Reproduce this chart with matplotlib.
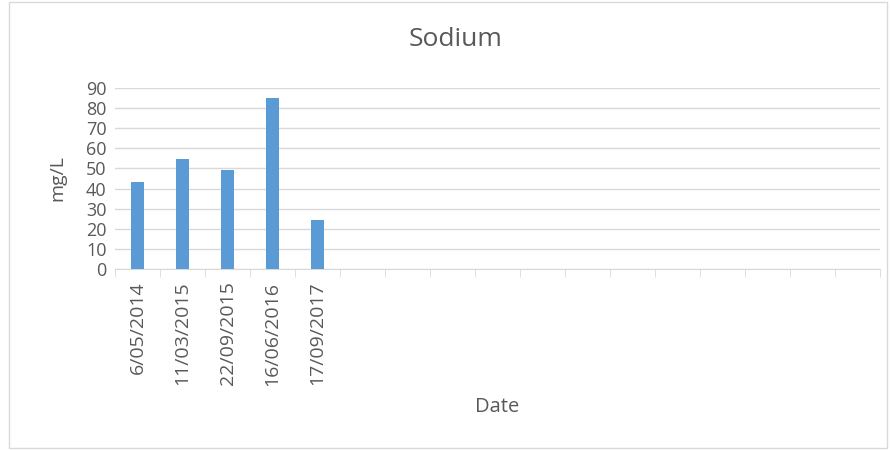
import matplotlib.pyplot as plt
from matplotlib.patches import Rectangle
import numpy as np

# sample dates (the remaining category slots of the sheet are empty)
dates = ["6/05/2014", "11/03/2015", "22/09/2015", "16/06/2016", "17/09/2017"]
sodium = [43.4, 54.5, 49.0, 85.2, 24.2]
n_slots = 17

plt.rcParams["font.family"] = ["Open Sans", "DejaVu Sans"]
grey = "#595959"

fig = plt.figure(figsize=(8.9, 4.5), dpi=100)
ax = fig.add_axes([115 / 890, 1 - 269 / 450, (880 - 115) / 890, (269 - 88) / 450])

x = np.arange(len(dates))
ax.bar(x, sodium, width=0.31, color="#5b9bd5", zorder=3)

ax.set_xlim(-0.5, n_slots - 0.5)
ax.set_ylim(0, 90)
ax.set_yticks(np.arange(0, 91, 10))
ax.yaxis.grid(True, color="#d9d9d9", linewidth=1, zorder=0)

# category labels in the middle, tick marks on boundaries
ax.set_xticks(x)
ax.set_xticklabels(dates, rotation=90)
ax.set_xticks(np.arange(-0.5, n_slots, 1), minor=True)
ax.tick_params(axis="x", which="major", length=0, pad=9, labelsize=14, labelcolor=grey)
ax.tick_params(axis="x", which="minor", length=6, color="#d9d9d9", direction="out")
ax.tick_params(axis="y", length=0, pad=6, labelsize=13, labelcolor=grey)

for side in ["top", "right", "left"]:
    ax.spines[side].set_visible(False)
ax.spines["bottom"].set_color("#d9d9d9")

fig.text(456 / 890, 1 - 40 / 450, "Sodium", ha="center", va="center", fontsize=19, color=grey)
fig.text(57 / 890, 1 - 178 / 450, "mg/L", ha="center", va="center", rotation=90, fontsize=14, color=grey)
fig.text(497 / 890, 1 - 407 / 450, "Date", ha="center", va="center", fontsize=14.5, color=grey)

fig.patches.append(Rectangle((9 / 890, 2 / 450), 878 / 890, 446 / 450, transform=fig.transFigure,
                             fill=False, edgecolor="#d9d9d9", linewidth=1))

fig.savefig("out.png", dpi=100)
